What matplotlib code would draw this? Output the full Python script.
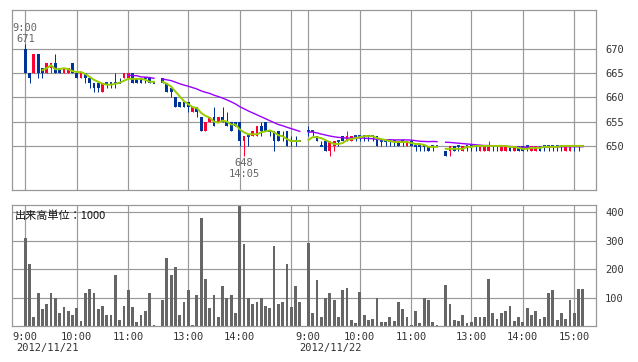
import matplotlib
matplotlib.use('Agg')
import matplotlib.pyplot as plt
import pandas as pd

# ---------------- data ----------------
dates = ["2012/11/21", "2012/11/22"]
hour_ticks = ["9:00", "10:00", "11:00", "13:00", "14:00", "15:00"]

# 5-minute bars: morning 9:00-11:30 (31 bars), afternoon 12:30-15:10 (33 bars)
d1_am_open  = [670,665,665,669,666,665,666,667,666,665,665,667,665,664,665,664,663,663,661,663,663,663,663,664,664,665,664,664,664,664,663]
d1_am_high  = [671,665,669,669,666,667,667,669,666,666,666,667,665,665,665,664,663,663,663,663,663,665,664,665,665,665,664,664,664,664,663]
d1_am_low   = [665,663,665,664,664,665,665,665,665,665,665,665,664,664,663,662,661,661,661,662,662,662,663,664,664,663,663,663,663,663,663]
d1_am_close = [665,664,669,665,665,667,667,665,665,666,666,665,664,665,664,663,662,662,663,663,663,663,663,665,665,663,663,663,664,663,663]
d1_am_vol   = [310,218,33,115,58,79,115,100,47,65,54,40,62,19,115,129,115,58,69,40,37,179,22,72,125,65,15,37,51,115,3]

d1_pm_open  = [664,663,662,660,659,659,659,657,658,656,653,655,656,655,656,655,655,655,655,651,652,652,652,654,655,653,653,653,652,653,651,651,651]
d1_pm_high  = [664,663,662,660,659,659,659,658,658,656,655,656,658,656,658,657,655,655,655,652,652,653,654,655,655,653,653,653,653,653,652,652,651]
d1_pm_low   = [663,661,660,658,658,658,657,657,656,653,653,655,654,655,655,654,653,654,650,648,650,652,652,652,653,652,649,651,651,650,650,650,651]
d1_pm_close = [663,661,661,658,658,658,658,658,657,653,655,656,654,656,655,654,653,654,651,652,652,653,654,653,653,653,651,651,652,650,651,651,651]
d1_pm_vol   = [93,239,179,207,37,83,125,5,108,378,164,62,108,30,140,97,108,47,420,289,97,79,83,97,72,62,282,76,83,218,65,140,86]

d2_am_open  = [653,653,652,650,651,649,650,651,652,651,651,652,652,652,652,652,652,651,651,651,651,651,651,650,651,650,650,650,650,650,650]
d2_am_high  = [654,653,652,651,651,651,651,651,652,653,652,652,652,652,652,652,652,651,651,651,651,651,651,651,651,650,650,650,650,650,650]
d2_am_low   = [652,652,651,650,649,648,649,650,651,651,651,651,651,651,651,651,650,650,650,650,650,650,650,650,650,649,649,649,649,649,650]
d2_am_close = [653,653,651,650,649,651,651,651,651,652,652,652,652,652,652,652,650,651,651,651,651,650,651,651,650,650,650,650,649,650,650]
d2_am_vol   = [292,44,161,30,100,115,93,30,125,132,22,12,118,37,22,26,100,15,15,33,19,86,58,30,5,51,12,100,90,15,2]

d2_pm_open  = [649,649,650,650,649,650,650,650,649,649,649,650,650,649,649,650,649,650,650,650,649,649,650,650,650,650,650,650,649,649,650,650,650]
d2_pm_high  = [649,650,650,650,650,650,650,650,650,650,651,650,650,650,650,650,650,650,650,650,650,650,650,650,650,650,650,650,650,650,650,650,650]
d2_pm_low   = [648,648,649,649,649,649,649,649,649,649,649,649,649,649,649,649,649,649,649,649,649,649,649,649,649,649,649,649,649,649,649,649,650]
d2_pm_close = [648,650,649,650,650,650,650,650,650,650,650,650,650,650,650,649,650,649,649,650,650,650,649,650,650,650,650,650,650,650,650,650,650]
d2_pm_vol   = [143,79,22,19,40,12,15,33,30,33,164,47,26,44,54,72,19,30,15,62,40,54,26,33,115,125,22,47,26,90,44,129,129]

high_label = ("9:00", 671)
low_label = ("14:05", 648)

# ---------------- helpers ----------------
def session_times(start_h, start_m, n):
    out = []
    t = start_h * 60 + start_m
    for k in range(n):
        tt = t + 5 * k
        out.append(f"{tt // 60}:{tt % 60:02d}")
    return out

def slot(day, hhmm):
    h, m = map(int, hhmm.split(':'))
    s = (h - 9) * 12 + m // 5
    if h >= 12:
        s -= 10          # lunch break collapsed to a single empty slot
    return day * 66 + s

sessions = [
    (0, session_times(9, 0, 31), d1_am_open, d1_am_high, d1_am_low, d1_am_close, d1_am_vol),
    (0, session_times(12, 30, 33), d1_pm_open, d1_pm_high, d1_pm_low, d1_pm_close, d1_pm_vol),
    (1, session_times(9, 0, 31), d2_am_open, d2_am_high, d2_am_low, d2_am_close, d2_am_vol),
    (1, session_times(12, 30, 33), d2_pm_open, d2_pm_high, d2_pm_low, d2_pm_close, d2_pm_vol),
]

all_close = pd.Series([c for s in sessions for c in s[5]], dtype=float)
ma5 = all_close.rolling(5).mean().tolist()
ma25 = all_close.rolling(25).mean().tolist()

RED = '#ff0033'
BLUE = '#003399'
GRID = '#999999'
TXT = '#333333'
W = 0.65
px = 0.72

plt.rcParams['font.family'] = ['DejaVu Sans Mono', 'DejaVu Sans']

fig = plt.figure(figsize=(6.38, 3.62), dpi=100)
fig.patch.set_facecolor('white')
ax1 = fig.add_axes([12/638, 1-190/362, 584/638, 180/362])
ax2 = fig.add_axes([12/638, 1-326/362, 584/638, 121/362])

grid_slots = [slot(0, t) for t in hour_ticks] + [slot(1, t) for t in hour_ticks]
grid_labels = hour_ticks[:-1] + [""] + hour_ticks

for ax in (ax1, ax2):
    ax.set_xlim(-3.1, 133.06)
    ax.set_axisbelow(True)
    ax.set_xticks(grid_slots)
    ax.grid(True, color=GRID, lw=0.85)
    for sp in ax.spines.values():
        sp.set_color(GRID)
        sp.set_linewidth(0.9)
    ax.yaxis.tick_right()
    ax.tick_params(length=0, colors=TXT, labelsize=7.5)
    ax.tick_params(axis='y', pad=6.5)

ax1.set_ylim(640.93, 677.97)
ax1.set_yticks([650, 655, 660, 665, 670])
ax1.set_xticklabels([])
ax2.set_ylim(0, 425)
ax2.set_yticks([100, 200, 300, 400])
ax2.set_xticklabels(grid_labels)
ax2.tick_params(axis='x', pad=4)

k = 0
for day, times, o, h, l, c, v in sessions:
    xs = [slot(day, t) for t in times]
    for x, oo, hh, ll, cc in zip(xs, o, h, l, c):
        col = RED if cc > oo else BLUE
        ax1.vlines(x, ll, hh, color=col, lw=px)
        if cc == oo:
            ax1.hlines(cc, x - W/2, x + W/2, color=col, lw=1.3)
        else:
            ax1.bar(x, abs(cc - oo), W, bottom=min(cc, oo), color=col, lw=0)
    ax2.bar(xs, v, W, color='#666666', lw=0)
    seg5 = ma5[k:k + len(xs)]
    seg25 = ma25[k:k + len(xs)]
    ax1.plot(xs, seg25, color='#9900ff', lw=1.0)
    ax1.plot(xs, seg5, color='#99cc00', lw=1.4)
    k += len(xs)

# high / low annotations
hx = slot(0, high_label[0])
ax1.annotate(str(high_label[1]), (hx, high_label[1]), xytext=(0, 1.5), textcoords='offset pixels',
             ha='center', va='baseline', color='#666666', fontsize=7.5)
ax1.annotate(high_label[0], (hx, high_label[1]), xytext=(0, 12.5), textcoords='offset pixels',
             ha='center', va='baseline', color='#666666', fontsize=7.5)
lx = slot(0, low_label[0])
ax1.annotate(str(low_label[1]), (lx, low_label[1]), xytext=(0, -10.5), textcoords='offset pixels',
             ha='center', va='baseline', color='#666666', fontsize=7.5)
ax1.annotate(low_label[0], (lx, low_label[1]), xytext=(0, -21.5), textcoords='offset pixels',
             ha='center', va='baseline', color='#666666', fontsize=7.5)

# volume unit label
ax2.text(3/584, 1 - 5/121, "出来高単位：1000", transform=ax2.transAxes, ha='left', va='top',
         fontsize=8, color='#111111', family=['Noto Sans CJK JP', 'DejaVu Sans'])

# date labels under the 9:00 ticks
for day, d in enumerate(dates):
    ax2.annotate(d, (slot(day, "9:00"), 0), xycoords=('data', 'axes fraction'),
                 xytext=(-9.5, -17), textcoords='offset pixels', ha='left', va='top',
                 fontsize=7.5, color=TXT)

fig.savefig('out.png', dpi=100, facecolor='white')
